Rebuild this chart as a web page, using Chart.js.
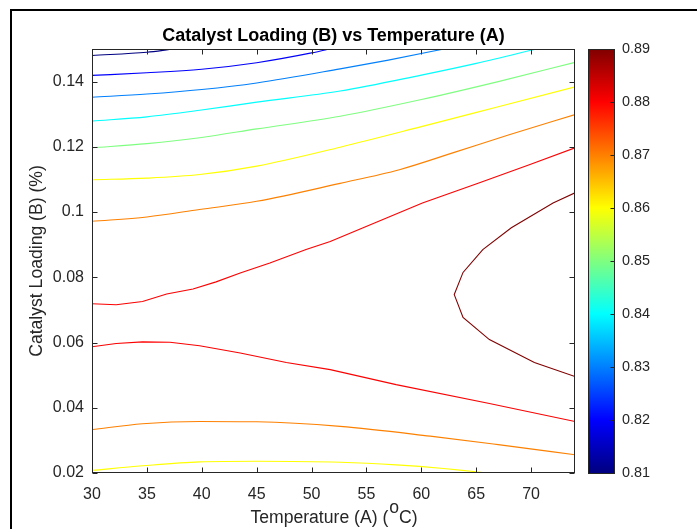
<!DOCTYPE html>
<html>
<head>
<meta charset="utf-8">
<script src="https://cdn.jsdelivr.net/npm/chart.js@4.4.0/dist/chart.umd.min.js"></script>
<style>
  html, body { margin: 0; padding: 0; background: #fff; }
  #wrap { width: 697px; height: 529px; }
</style>
</head>
<body>
<div id="wrap"><canvas id="contourChart" width="697" height="529"></canvas></div>
<script>
// contour levels and tick values
const levels = [0.81, 0.82, 0.83, 0.84, 0.85, 0.86, 0.87, 0.88, 0.89];
const xTicks = [30, 35, 40, 45, 50, 55, 60, 65, 70];
const yTicks = [0.02, 0.04, 0.06, 0.08, 0.1, 0.12, 0.14];
const barTicks = [0.81, 0.82, 0.83, 0.84, 0.85, 0.86, 0.87, 0.88, 0.89];

// contour lines as [temperature, loading] pairs
const c081 = [[30, 0.1480], [35, 0.1490], [37.5, 0.1500], [39, 0.1505]];
const c082 = [[30, 0.1419], [35, 0.1427], [40, 0.1438], [45, 0.1458], [50, 0.1488], [52, 0.1503]];
const c083 = [[30, 0.1352], [35, 0.1362], [40, 0.1376], [45, 0.1396], [52.6, 0.1439], [57, 0.1466], [62.5, 0.1503]];
const c084 = [[30, 0.1279], [35, 0.1292], [39.8, 0.1312], [45, 0.1337], [52.6, 0.1371], [60, 0.1420], [65, 0.1456], [70.8, 0.1503]];
const c085 = [[30, 0.1197], [35, 0.1210], [39.8, 0.1228], [45, 0.1255], [52.6, 0.1294], [60, 0.1345], [67, 0.1400], [74, 0.1459]];
const c086top = [[30, 0.1099], [35, 0.1104], [39.8, 0.1115], [45, 0.1141], [52.6, 0.1199], [60, 0.1262], [67, 0.1323], [74, 0.1384]];
const c087top = [[30, 0.0972], [35, 0.0985], [39.8, 0.1008], [45, 0.1033], [52.6, 0.1088], [58, 0.1130], [63, 0.1183], [68, 0.1237], [74, 0.1299]];
const c088top = [[30, 0.0719], [32.2, 0.0716], [34.6, 0.0726], [36.8, 0.0749], [39.2, 0.0764], [41.3, 0.0786], [43.5, 0.0813], [46.2, 0.0844],
  [49.5, 0.0885], [51.7, 0.0910], [54.7, 0.0952], [60.1, 0.1028], [65.3, 0.1090], [69.9, 0.1146], [74, 0.1197]];
const c089 = [[74, 0.1059], [72.0, 0.1028], [68.2, 0.0952], [65.6, 0.0885], [63.8, 0.0815], [63.0, 0.0747], [63.8, 0.0677],
  [66.2, 0.0609], [70.3, 0.0539], [74, 0.0496]];
const c088bot = [[30, 0.0587], [32.2, 0.0597], [34.6, 0.0602], [37.1, 0.0601], [39.8, 0.0590], [43.5, 0.0568], [47.7, 0.0539],
  [51.7, 0.0517], [57.7, 0.0471], [66.2, 0.0413], [74, 0.0358]];
const c087bot = [[30, 0.0333], [34.6, 0.0351], [39.8, 0.0358], [45, 0.0357], [52.6, 0.0343], [60.8, 0.0313], [67, 0.0287], [74, 0.0256]];
const c086bot = [[30, 0.0208], [34.6, 0.0222], [39.8, 0.0234], [45, 0.0236], [52.6, 0.0233], [57.7, 0.0225], [62, 0.0214], [66, 0.0200], [67, 0.0196]];

const FONT = "'Liberation Sans', Arial, Helvetica, sans-serif";
const TEXT = '#262626';

// jet colormap
const jet = [[0, '#000080'], [0.125, '#0000ff'], [0.375, '#00ffff'], [0.625, '#ffff00'], [0.875, '#ff0000'], [1, '#800000']];
function jetColor(v) {
  const t = (v - levels[0]) / (levels[levels.length - 1] - levels[0]);
  for (let i = 1; i < jet.length; i++) {
    if (t <= jet[i][0] + 1e-9) {
      const [t0, c0] = jet[i - 1], [t1, c1] = jet[i];
      const f = (t - t0) / (t1 - t0);
      const a = [1, 3, 5].map(k => parseInt(c0.substr(k, 2), 16));
      const b = [1, 3, 5].map(k => parseInt(c1.substr(k, 2), 16));
      return 'rgb(' + a.map((x, j) => Math.round(x + (b[j] - x) * f)).join(',') + ')';
    }
  }
  return jet[jet.length - 1][1];
}

function line(level, pts, smooth) {
  return {
    label: String(level),
    data: pts.map(p => ({ x: p[0], y: p[1] })),
    showLine: true,
    borderColor: jetColor(level),
    borderWidth: 1.1,
    pointRadius: 0,
    tension: smooth ? 0.4 : 0,
    cubicInterpolationMode: smooth ? 'monotone' : 'default'
  };
}

const datasets = [
  line(levels[0], c081, true),
  line(levels[1], c082, true),
  line(levels[2], c083, true),
  line(levels[3], c084, true),
  line(levels[4], c085, true),
  line(levels[5], c086top, true),
  line(levels[6], c087top, true),
  line(levels[7], c088top, false),
  line(levels[8], c089, false),
  line(levels[7], c088bot, false),
  line(levels[6], c087bot, true),
  line(levels[5], c086bot, true)
];

// frame, axis box with inward ticks, colorbar and x label
const matlabLook = {
  id: 'matlabLook',
  beforeDraw(chart) {
    const ctx = chart.ctx;
    ctx.save();
    ctx.fillStyle = '#fff';
    ctx.fillRect(0, 0, chart.width, chart.height);
    ctx.strokeStyle = '#000';
    ctx.lineWidth = 2;
    ctx.strokeRect(11, 10, chart.width + 20, chart.height + 20);
    ctx.restore();
  },
  afterDraw(chart) {
    const { ctx, chartArea: a, scales } = chart;
    ctx.save();
    ctx.strokeStyle = TEXT;
    ctx.lineWidth = 1;
    const L = a.left + 0.5, R = a.right - 0.5, T = a.top + 0.5, B = a.bottom - 0.5;
    ctx.strokeRect(L, T, R - L, B - T);
    ctx.beginPath();
    xTicks.forEach(v => {
      const px = Math.round(scales.x.getPixelForValue(v)) + 0.5;
      ctx.moveTo(px, B); ctx.lineTo(px, B - 5);
      ctx.moveTo(px, T); ctx.lineTo(px, T + 5);
    });
    yTicks.forEach(v => {
      const py = Math.round(scales.y.getPixelForValue(v)) + 0.5;
      ctx.moveTo(L, py); ctx.lineTo(L + 5, py);
      ctx.moveTo(R, py); ctx.lineTo(R - 5, py);
    });
    ctx.stroke();

    // colorbar
    const cb = scales.cb;
    const cTop = cb.getPixelForValue(barTicks[barTicks.length - 1]);
    const cBot = cb.getPixelForValue(barTicks[0]);
    const cL = a.right + 13, cW = 26;
    const g = ctx.createLinearGradient(0, cBot, 0, cTop);
    jet.forEach(s => g.addColorStop(s[0], s[1]));
    ctx.fillStyle = g;
    ctx.fillRect(cL, cTop, cW, cBot - cTop);
    ctx.strokeRect(cL + 0.5, Math.round(cTop) + 0.5, cW, Math.round(cBot - cTop));
    ctx.beginPath();
    barTicks.forEach(v => {
      const py = Math.round(cb.getPixelForValue(v)) + 0.5;
      ctx.moveTo(cL + cW + 0.5, py); ctx.lineTo(cL + cW - 3.5, py);
    });
    ctx.stroke();

    // x axis label with superscript o
    const size = 17.6;
    ctx.fillStyle = TEXT;
    ctx.textBaseline = 'alphabetic';
    ctx.textAlign = 'left';
    ctx.font = size + 'px ' + FONT;
    const p1 = 'Temperature (A) (', p2 = 'o', p3 = 'C)';
    const w1 = ctx.measureText(p1).width, w2 = ctx.measureText(p2).width, w3 = ctx.measureText(p3).width;
    const cx = (a.left + a.right) / 2;
    let x0 = cx - (w1 + w2 + w3) / 2;
    const base = a.bottom + 49.5;
    ctx.fillText(p1, x0, base);
    ctx.fillText(p2, x0 + w1 + 1, base - 9.5);
    ctx.fillText(p3, x0 + w1 + w2 + 1, base);
    ctx.restore();
  }
};

function noEdgePadding(s) {
  s.paddingTop = 0;
  s.paddingBottom = 0;
  s.paddingLeft = 0;
  s.paddingRight = 0;
}

const ctx = document.getElementById('contourChart').getContext('2d');
new Chart(ctx, {
  type: 'scatter',
  data: { datasets: datasets },
  plugins: [matlabLook],
  options: {
    responsive: false,
    animation: false,
    events: [],
    layout: { padding: 0 },
    plugins: {
      legend: { display: false },
      tooltip: { enabled: false },
      title: {
        display: true,
        text: 'Catalyst Loading (B) vs Temperature (A)',
        fullSize: false,
        color: '#000',
        font: { family: FONT, size: 18, weight: 'bold' },
        padding: { top: 25, bottom: 2.4 }
      }
    },
    scales: {
      x: {
        type: 'linear',
        min: 30,
        max: 74,
        grid: { display: false, drawTicks: false },
        border: { display: false },
        ticks: { color: TEXT, font: { family: FONT, size: 16 }, padding: 12, maxRotation: 0, autoSkip: false },
        afterBuildTicks: s => { s.ticks = xTicks.map(v => ({ value: v })); },
        afterFit: s => { s.height = 56; noEdgePadding(s); }
      },
      y: {
        type: 'linear',
        position: 'left',
        min: 0.02,
        max: 0.15,
        grid: { display: false, drawTicks: false },
        border: { display: false },
        ticks: {
          color: TEXT, font: { family: FONT, size: 16 }, padding: 8, autoSkip: false,
          callback: v => String(+v.toFixed(2))
        },
        title: {
          display: true,
          text: 'Catalyst Loading (B) (%)',
          color: TEXT,
          font: { family: FONT, size: 17.6 },
          padding: { top: 26.4, bottom: 0 }
        },
        afterBuildTicks: s => { s.ticks = yTicks.map(v => ({ value: v })); },
        afterFit: s => { s.width = 92; noEdgePadding(s); }
      },
      cb: {
        type: 'linear',
        axis: 'y',
        position: 'right',
        min: 0.81,
        max: 0.89,
        grid: { display: false, drawTicks: false },
        border: { display: false },
        ticks: {
          color: TEXT, font: { family: FONT, size: 14.4 }, padding: 47, autoSkip: false,
          callback: v => v.toFixed(2)
        },
        afterBuildTicks: s => { s.ticks = barTicks.map(v => ({ value: v })); },
        afterFit: s => { s.width = 122; noEdgePadding(s); }
      }
    }
  }
});
</script>
</body>
</html>
